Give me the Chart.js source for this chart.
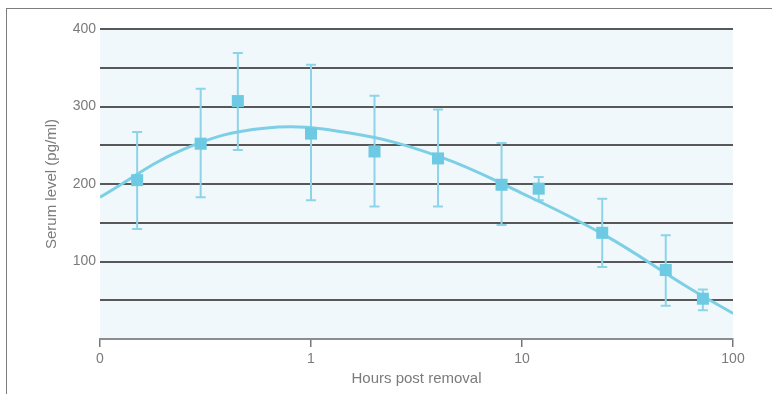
<!DOCTYPE html>
<html>
<head>
<meta charset="utf-8">
<script src="https://cdn.jsdelivr.net/npm/chart.js@4/dist/chart.umd.min.js"></script>
<style>
    html, body { margin: 0; padding: 0; background: #ffffff; }
    #wrap { position: relative; width: 772px; height: 394px; overflow: hidden; }
    #frame {
        position: absolute; left: 6px; top: 8px; width: 800px; height: 400px;
        border-top: 1px solid #7d7d7d; border-left: 1px solid #7d7d7d;
    }
    #serum-chart { position: absolute; left: 0; top: 0; }
</style>
</head>
<body>
<div id="wrap">
    <div id="frame"></div>
    <canvas id="serum-chart" width="772" height="394"></canvas>
</div>
<script>
"use strict"

// Measured serum level (mean with upper / lower error bar)
const hours = [0.15, 0.3, 0.45, 1, 2, 4, 8, 12, 24, 48, 72];
const serum = [205, 252, 307, 265, 242, 233, 199, 194, 137, 89, 52];
const serumHigh = [267, 323, 369, 354, 314, 296, 253, 209, 181, 134, 64];
const serumLow = [142, 183, 244, 179, 171, 171, 147, 179, 93, 43, 37];

// Fitted curve
const fitHours = [0.1, 0.25, 0.6, 1.5, 4, 10, 25, 60, 100];
const fitSerum = [183, 245, 272, 266, 236, 188, 133, 68, 33];

// Axis ticks
const xTickValues = [0.1, 1, 10, 100];
const xTickLabels = ['0', '1', '10', '100'];
const yTickLabels = [100, 200, 300, 400];

const textColor = '#7b7b7b';
const gridColor = '#585858';
const markerColor = '#6ecae2';
const barColor = '#8dd4e8';
const curveColor = '#7dcfe6';

const byId = id => document.getElementById(id);

/**
 * Fills the plot area with the pale blue background.
 */
const plotBackground = {
    id: 'plotBackground',
    beforeDraw(chart) {
        const { ctx, chartArea } = chart;
        ctx.save();
        ctx.fillStyle = '#f0f8fb';
        ctx.fillRect(chartArea.left, chartArea.top, chartArea.right - chartArea.left, chartArea.bottom - chartArea.top);
        ctx.restore();
    }
};

/**
 * Draws the vertical error bars with caps for the measured points.
 */
const errorBars = {
    id: 'errorBars',
    beforeDatasetsDraw(chart) {
        const { ctx, scales } = chart;
        const cap = 5;
        ctx.save();
        ctx.strokeStyle = barColor;
        ctx.lineWidth = 2;
        hours.forEach((h, i) => {
            const x = scales.x.getPixelForValue(h);
            const yHigh = scales.y.getPixelForValue(serumHigh[i]);
            const yLow = scales.y.getPixelForValue(serumLow[i]);
            ctx.beginPath();
            ctx.moveTo(x, yHigh);
            ctx.lineTo(x, yLow);
            ctx.moveTo(x - cap, yHigh);
            ctx.lineTo(x + cap, yHigh);
            ctx.moveTo(x - cap, yLow);
            ctx.lineTo(x + cap, yLow);
            ctx.stroke();
        });
        ctx.restore();
    }
};

function initChart() {
    const ctx = byId('serum-chart');
    const tickFont = { family: '"Liberation Sans", Arial, sans-serif', size: 14 };
    const titleFont = { family: '"Liberation Sans", Arial, sans-serif', size: 15 };

    new Chart(ctx, {
        type: 'scatter',
        data: {
            datasets: [
                {
                    label: 'Measured',
                    data: hours.map((h, i) => ({ x: h, y: serum[i] })),
                    pointStyle: 'rect',
                    pointRadius: 8.5,
                    backgroundColor: markerColor,
                    borderWidth: 0,
                    order: 0
                },
                {
                    label: 'Fit',
                    type: 'line',
                    data: fitHours.map((h, i) => ({ x: h, y: fitSerum[i] })),
                    borderColor: curveColor,
                    borderWidth: 3,
                    pointRadius: 0,
                    tension: 0.4,
                    fill: false,
                    order: 1
                }
            ]
        },
        options: {
            responsive: false,
            animation: false,
            devicePixelRatio: 1,
            layout: { padding: { top: 29, right: 39, bottom: 0, left: 0 } },
            plugins: {
                legend: { display: false },
                tooltip: { enabled: false }
            },
            scales: {
                x: {
                    type: 'logarithmic',
                    min: 0.1,
                    max: 100,
                    afterBuildTicks: scale => {
                        scale.ticks = xTickValues.map(v => ({ value: v }));
                    },
                    afterFit: scale => { scale.height = 55; },
                    ticks: {
                        color: textColor,
                        font: tickFont,
                        padding: 4,
                        maxRotation: 0,
                        autoSkip: false,
                        callback: (value, index) => xTickLabels[index]
                    },
                    grid: {
                        drawOnChartArea: false,
                        drawTicks: true,
                        tickLength: 8,
                        color: '#777777',
                        lineWidth: 1.5
                    },
                    border: { display: true, color: '#8c8c8c', width: 2 },
                    title: {
                        display: true,
                        text: 'Hours post removal',
                        color: textColor,
                        font: titleFont,
                        padding: { top: 0, bottom: 6 }
                    }
                },
                y: {
                    min: 0,
                    max: 400,
                    afterFit: scale => { scale.width = 100; },
                    ticks: {
                        stepSize: 50,
                        color: textColor,
                        font: tickFont,
                        padding: 4,
                        callback: value => yTickLabels.includes(value) ? String(value) : ''
                    },
                    grid: {
                        drawTicks: false,
                        lineWidth: 2,
                        color: c => c.tick && c.tick.value === 0 ? 'rgba(0,0,0,0)' : gridColor
                    },
                    border: { display: false },
                    title: {
                        display: true,
                        text: 'Serum level (pg/ml)',
                        color: textColor,
                        font: titleFont,
                        padding: { top: 43, bottom: 0 }
                    }
                }
            }
        },
        plugins: [plotBackground, errorBars]
    });
}

initChart();
</script>
</body>
</html>
